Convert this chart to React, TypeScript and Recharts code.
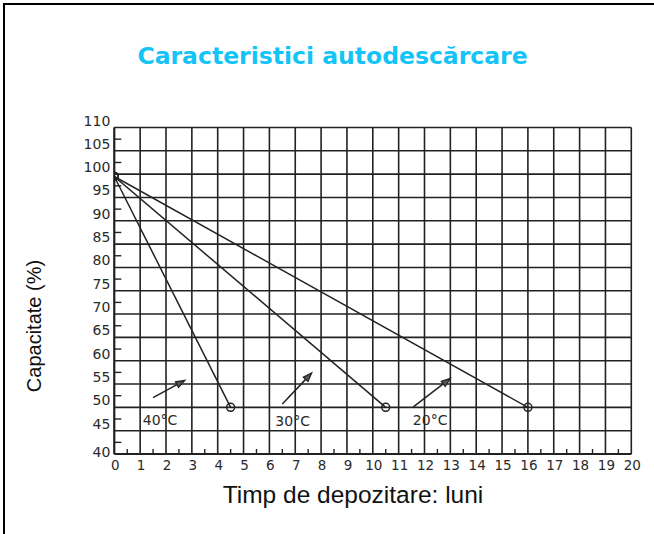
import React from 'react';
import { LineChart, Line, XAxis, YAxis, CartesianGrid, ReferenceLine, ReferenceDot } from 'recharts';

// ---- data ----
const startCapacity = 99.5;
const endCapacity = 50;
const series40 = [{ x: 0, y: startCapacity }, { x: 4.5, y: endCapacity }];
const series30 = [{ x: 0, y: startCapacity }, { x: 10.5, y: endCapacity }];
const series20 = [{ x: 0, y: startCapacity }, { x: 16, y: endCapacity }];

const tempLabels = ['40°C', '30°C', '20°C'];
const arrowFrom = [{ x: 1.5, y: 52.1 }, { x: 6.5, y: 50.7 }, { x: 11.57, y: 50.1 }];
const arrowTo = [{ x: 2.73, y: 55.8 }, { x: 7.64, y: 57.4 }, { x: 13.0, y: 56.2 }];
const labelPos = [{ x: 1.1, y: 47.3 }, { x: 6.23, y: 47.0 }, { x: 11.55, y: 47.3 }];

const xMajor = Array.from({ length: 21 }, (_, i) => i);
const xTicks = Array.from({ length: 41 }, (_, i) => i * 0.5);
const yMajor = Array.from({ length: 15 }, (_, i) => 40 + i * 5);
const yTicks = Array.from({ length: 29 }, (_, i) => 40 + i * 2.5);

const title = 'Caracteristici autodescărcare';
const xTitle = 'Timp de depozitare: luni';
const yTitle = 'Capacitate (%)';

const INK = '#222';
const TICK_FONT = '"DejaVu Sans", sans-serif';

const XTick = (props: any) => {
  const { x, y, payload } = props;
  const v = payload.value;
  if (Math.abs(v - Math.round(v)) > 0.01) {
    return <line x1={x} y1={y} x2={x} y2={y - 5} stroke={INK} strokeWidth={1.4} />;
  }
  return (
    <text x={x + 1} y={y + 16} textAnchor="middle" fontFamily={TICK_FONT} fontSize={13.5} fill="#2a2a2a">
      {v}
    </text>
  );
};

const YTick = (props: any) => {
  const { x, y, payload } = props;
  const v = payload.value;
  if (Math.abs(v / 5 - Math.round(v / 5)) > 0.01) {
    return <line x1={x} y1={y} x2={x + 7} y2={y} stroke={INK} strokeWidth={1.4} />;
  }
  const dy = v === 40 ? 3 : -2;
  return (
    <text x={x - 4} y={y + dy} textAnchor="end" fontFamily={TICK_FONT} fontSize={14} fill="#2a2a2a">
      {v}
    </text>
  );
};

const arrowShape = (props: any) => {
  const { x1, y1, x2, y2 } = props;
  const dx = x2 - x1;
  const dy = y2 - y1;
  const len = Math.sqrt(dx * dx + dy * dy) || 1;
  const ux = dx / len;
  const uy = dy / len;
  const hl = 9;
  const hw = 3.2;
  const bx = x2 - ux * hl;
  const by = y2 - uy * hl;
  const pts = `${x2},${y2} ${bx - uy * hw},${by + ux * hw} ${bx + uy * hw},${by - ux * hw}`;
  return (
    <g>
      <line x1={x1} y1={y1} x2={bx} y2={by} stroke={INK} strokeWidth={1.5} />
      <polygon points={pts} fill="#555" stroke={INK} strokeWidth={1.2} />
    </g>
  );
};

const makeLabelShape = (text: string) => (props: any) => {
  const { cx, cy } = props;
  return (
    <text x={cx} y={cy + 5} textAnchor="start" fontFamily={TICK_FONT} fontSize={14} fill="#2a2a2a">
      {text}
    </text>
  );
};

const dotStyle = { r: 4, stroke: INK, strokeWidth: 1.5, fill: 'none' };

export default function App() {
  return (
    <div style={{ position: 'absolute', left: 0, top: 0, width: 654, height: 534, background: '#fff' }}>
      <div
        style={{
          position: 'absolute',
          left: 3,
          top: 3,
          width: 700,
          height: 600,
          borderTop: '2px solid #000',
          borderLeft: '2px solid #000',
        }}
      />
      <svg width={654} height={534} style={{ position: 'absolute', left: 0, top: 0 }}>
        <text
          x={332.5}
          y={64}
          textAnchor="middle"
          fontFamily='"DejaVu Sans", sans-serif'
          fontWeight="bold"
          fontSize={23.5}
          fill="#14C4F6"
        >
          {title}
        </text>
        <text
          x={353}
          y={503}
          textAnchor="middle"
          fontFamily='"Liberation Sans", Arial, sans-serif'
          fontSize={24.5}
          fill="#111"
        >
          {xTitle}
        </text>
        <text
          transform="translate(41,326) rotate(-90)"
          textAnchor="middle"
          fontFamily='"Liberation Sans", Arial, sans-serif'
          fontSize={20}
          fill="#111"
        >
          {yTitle}
        </text>
      </svg>
      <div style={{ position: 'absolute', left: 0, top: 0 }}>
        <LineChart
          width={654}
          height={534}
          margin={{ top: 127.5, right: 22.7, left: 14.3, bottom: 50 }}
        >
          <CartesianGrid
            stroke={INK}
            strokeWidth={1.6}
            horizontalValues={yMajor}
            verticalValues={xMajor}
          />
          <XAxis
            type="number"
            dataKey="x"
            domain={[0, 20]}
            ticks={xTicks}
            interval={0}
            tickSize={0}
            tickMargin={0}
            tickLine={false}
            tick={<XTick />}
            height={30}
            axisLine={{ stroke: INK, strokeWidth: 2 }}
            allowDataOverflow
          />
          <YAxis
            type="number"
            dataKey="y"
            domain={[40, 110]}
            ticks={yTicks}
            interval={0}
            tickSize={0}
            tickMargin={0}
            tickLine={false}
            tick={<YTick />}
            width={100}
            axisLine={{ stroke: INK, strokeWidth: 2 }}
            allowDataOverflow
          />
          <Line data={series40} dataKey="y" stroke={INK} strokeWidth={1.5} dot={dotStyle} isAnimationActive={false} />
          <Line data={series30} dataKey="y" stroke={INK} strokeWidth={1.5} dot={dotStyle} isAnimationActive={false} />
          <Line data={series20} dataKey="y" stroke={INK} strokeWidth={1.5} dot={dotStyle} isAnimationActive={false} />
          {tempLabels.map((t, i) => (
            <ReferenceLine
              key={'a' + i}
              segment={[arrowFrom[i], arrowTo[i]]}
              shape={arrowShape}
              stroke={INK}
            />
          ))}
          {tempLabels.map((t, i) => (
            <ReferenceDot key={'l' + i} x={labelPos[i].x} y={labelPos[i].y} r={0} shape={makeLabelShape(t)} />
          ))}
        </LineChart>
      </div>
    </div>
  );
}
